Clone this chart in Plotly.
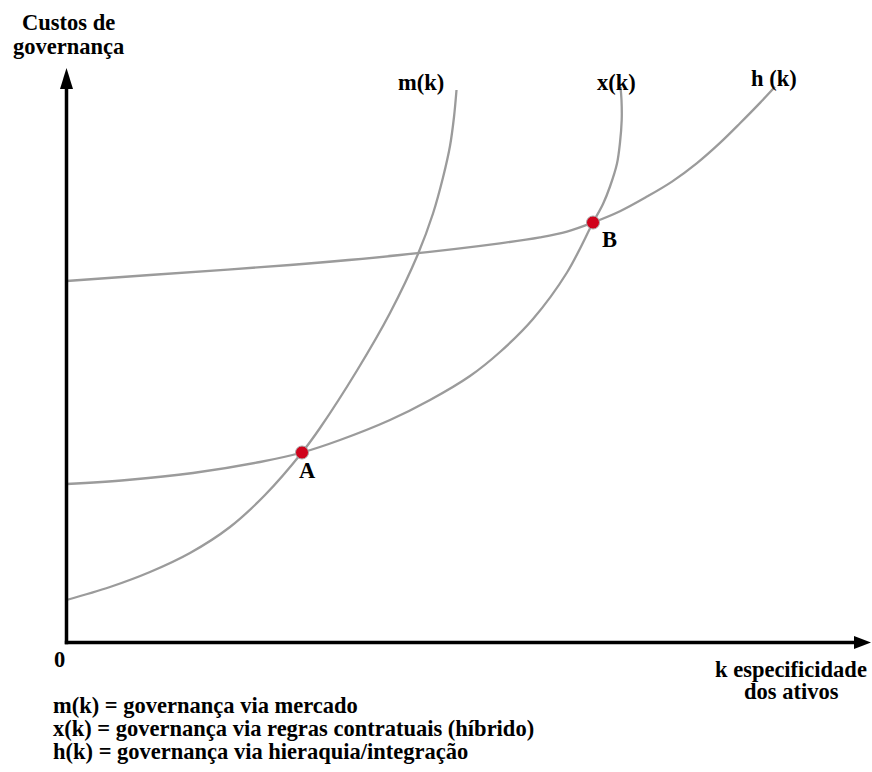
import plotly.graph_objects as go

# ---- data (k = asset specificity, cost = governance cost; arbitrary units) ----
m_k = [0, 43.5, 83.5, 123.5, 163.5, 198.5, 235.5, 253.5, 290.5, 323.5, 351.5, 366.5, 376.5, 383.5, 387.5, 390]
m_cost = [42.5, 55.5, 70.5, 89.5, 115.5, 147.5, 190, 214.5, 272, 329.5, 388.5, 429, 465, 496.5, 525.5, 552.5]

x_k = [0, 60.5, 126.5, 193.5, 235.5, 273.5, 323.5, 363.5, 403.5, 433.5, 466.5, 500.5, 526.5,
       536.5, 543.5, 550.5, 553.5, 555.2, 555, 554]
x_cost = [158.5, 162.5, 169.5, 180.5, 190, 202.5, 222.5, 242.5, 266.5, 290.5, 323.5, 370, 420,
          438.5, 456, 479, 500, 522.5, 542.5, 555.5]

h_k = [0, 83.5, 223.5, 333.5, 433.5, 473.5, 500.5, 526.5, 553.5, 580.5, 605.5, 630.5, 653.5, 673.5, 693.5, 708.5]
h_cost = [361.5, 367.5, 377.5, 387.5, 399.2, 405.2, 410.9, 420, 431.3, 445.9, 460.9, 479.4, 499.6, 519.2, 539.6, 555.7]

point_labels = ["A", "B"]
point_k = [235.5, 526.5]
point_cost = [190, 420]

curve_labels = ["m(k)", "x(k)", "h (k)"]
legend_lines = [
    "m(k) = governança via mercado",
    "x(k) = governança via regras contratuais (híbrido)",
    "h(k) = governança via hieraquia/integração",
]

# ---- layout helpers (pixel -> data) ----
W, H = 872, 772
OX, OY = 66.5, 642.5


def P(px, py):
    return px - OX, OY - py


FONT = dict(family="Liberation Serif", size=22.5, color="black", weight="bold")
CURVE = dict(color="#9b9b9b", width=2.3)

fig = go.Figure()
for kk, cc, name in [(m_k, m_cost, "m"), (x_k, x_cost, "x"), (h_k, h_cost, "h")]:
    fig.add_trace(go.Scatter(x=kk, y=cc, mode="lines", line=dict(shape="spline", smoothing=1.0, **CURVE),
                             hoverinfo="skip", showlegend=False, name=name))

fig.add_trace(go.Scatter(x=point_k, y=point_cost, mode="markers",
                         marker=dict(size=13, color="#d0021b", line=dict(color="#a8a8a8", width=1)),
                         showlegend=False, hoverinfo="skip"))

# axes with arrows
shapes = []
x0, y0 = P(66.5, 642.5)
xt, yt = P(66.5, 68)
shapes.append(dict(type="line", x0=x0, y0=y0 - 1.7, x1=xt, y1=yt - 18, line=dict(color="black", width=3.5)))
shapes.append(dict(type="path", path=f"M {xt} {yt} L {xt-6.5} {yt-21} L {xt+6.5} {yt-21} Z",
                   fillcolor="black", line=dict(color="black", width=0)))
xr, yr = P(871, 642.5)
shapes.append(dict(type="line", x0=x0 - 1.7, y0=y0, x1=xr - 15, y1=yr, line=dict(color="black", width=3.5)))
shapes.append(dict(type="path", path=f"M {xr} {yr} L {xr-17} {yr-6.5} L {xr-17} {yr+6.5} Z",
                   fillcolor="black", line=dict(color="black", width=0)))

annotations = []


def add_text(text, px, py, xanchor="center"):
    ax, ay = P(px, py)
    annotations.append(dict(x=ax, y=ay, text=text, showarrow=False, xanchor=xanchor, yanchor="middle",
                            font=FONT, xref="x", yref="y"))


add_text("Custos de", 68.5, 22)
add_text("governança", 68, 46)
add_text(curve_labels[0], 420.5, 82)
add_text(curve_labels[1], 616, 82)
add_text(curve_labels[2], 774, 78.5)
add_text(point_labels[0], 307, 470)
add_text(point_labels[1], 609, 239)
add_text("0", 59.5, 659)
add_text("k especificidade", 791, 669)
add_text("dos ativos", 791.5, 691.5)
for i, line in enumerate(legend_lines):
    add_text(line, 50.5, [705.5, 728.5, 751][i], xanchor="left")

xa0, _ = P(0, 0)
xa1, _ = P(W, 0)
_, ya0 = P(0, H)
_, ya1 = P(0, 0)

fig.update_layout(
    width=W, height=H,
    margin=dict(l=0, r=0, t=0, b=0),
    paper_bgcolor="white", plot_bgcolor="white",
    xaxis=dict(range=[xa0, xa1], visible=False, fixedrange=True),
    yaxis=dict(range=[ya0, ya1], visible=False, fixedrange=True),
    shapes=shapes,
    annotations=annotations,
    showlegend=False,
)

fig.write_html("out.html", config={"displayModeBar": False},
               post_script="document.body.style.margin='0';document.body.style.overflow='hidden';")
